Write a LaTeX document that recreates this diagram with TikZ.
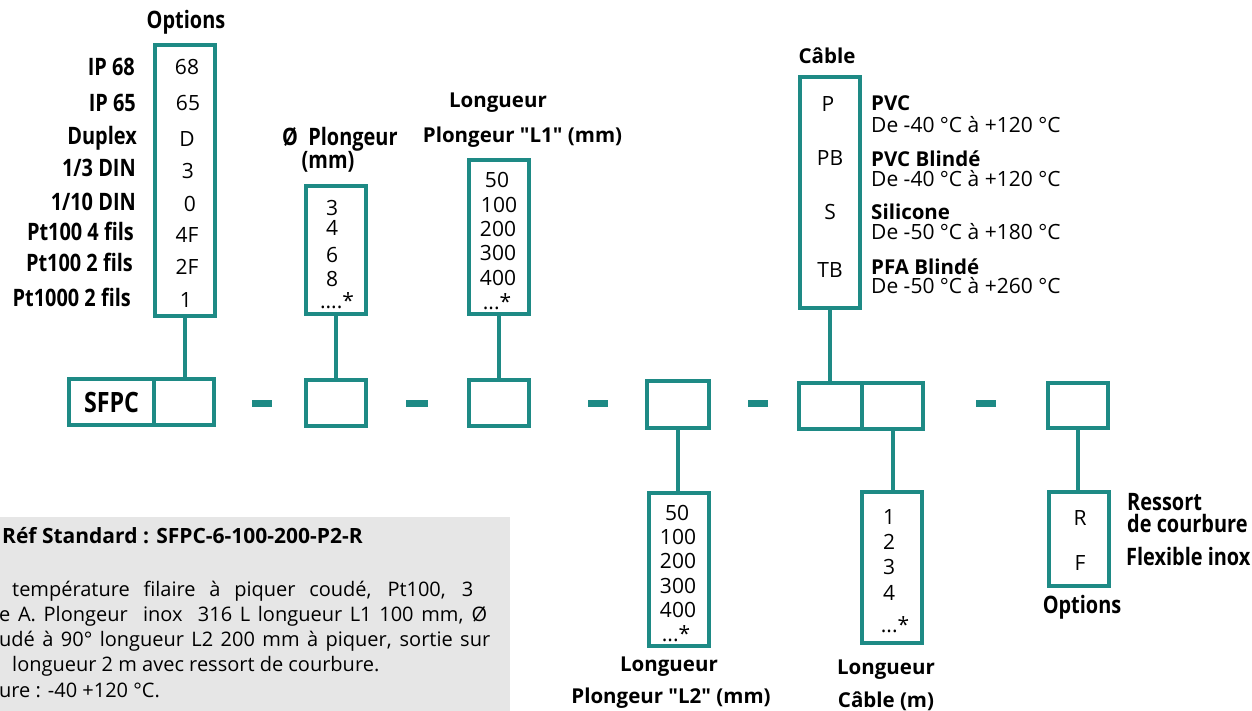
\documentclass[tikz,border=0pt]{standalone}
\usepackage{fontspec}
\setmainfont{Open Sans}[Ligatures=TeXOff]
\newfontfamily\condf{Open Sans}[FakeStretch=0.83]
\definecolor{teal1}{HTML}{1E8A85}
\definecolor{graybg}{HTML}{E6E6E6}
\begin{document}
\begin{tikzpicture}[x=1pt,y=-1pt,
  tbox/.style={draw=teal1, line width=4pt, inner sep=0pt, rectangle},
  dashbar/.style={fill=teal1, draw=none, inner sep=0pt, minimum width=20, minimum height=7},
  conn/.style={draw=teal1, line width=4pt},
  lab/.style={font=\condf\bfseries\fontsize{24}{28}\selectfont, inner sep=0pt},
  hdr/.style={font=\bfseries\fontsize{20.5}{24}\selectfont, inner sep=0pt},
  val/.style={font=\fontsize{21}{25}\selectfont, inner sep=0pt},
  gt/.style={font=\fontsize{20}{24}\selectfont, inner sep=0pt, anchor=base west},
  gtb/.style={font=\bfseries\fontsize{21}{24}\selectfont, inner sep=0pt, anchor=base west}
]
\useasboundingbox (0,0) rectangle (1252,711);

% gray reference panel
\begin{scope}
\clip (0,517) rectangle (510,711);
\fill[graybg] (-5,517) rectangle (510,716);
\node[gtb] (ref) at (2,543) {Réf Standard : SFPC-6-100-200-P2-R};
\node[gt] (g1) at (12,596) {\makebox[461pt][s]{température filaire à piquer coudé, Pt100, 3}};
\node[gt] (g2) at (-1,621) {\makebox[488pt][s]{e A. Plongeur \ inox \ 316 L longueur L1 100 mm, Ø}};
\node[gt] (g3) at (-1,646) {\makebox[491pt][s]{udé à 90° longueur L2 200 mm à piquer, sortie sur}};
\node[gt] (g4) at (12,671) {longueur 2 m avec ressort de courbure.};
\node[gt] (g5) at (-1,697) {ure : -40 +120 °C.};
\end{scope}

% main row
\node[tbox, minimum width=85, minimum height=46] (sfL) at (111.5,402) {};
\node[tbox, minimum width=60, minimum height=46] (sfR) at (184,402) {};
\node[lab, font=\condf\bfseries\fontsize{28}{32}\selectfont, anchor=base] (sfpc) at (111.5,412) {SFPC};
\node[dashbar] (d1) at (262,403.5) {};
\node[tbox, minimum width=60, minimum height=46] (m2) at (336,403) {};
\node[dashbar, minimum width=22] (d2) at (417,403.5) {};
\node[tbox, minimum width=60, minimum height=46] (m3) at (498.5,403) {};
\node[dashbar] (d3) at (598,403.5) {};
\node[tbox, minimum width=62, minimum height=47] (m4) at (678,404.5) {};
\node[dashbar] (d4) at (758,403.5) {};
\node[tbox, minimum width=63, minimum height=46] (cbL) at (830.5,406) {};
\node[tbox, minimum width=61, minimum height=46] (cbR) at (892.5,406) {};
\node[dashbar] (d5) at (986,403.5) {};
\node[tbox, minimum width=60, minimum height=45] (m6) at (1078,405.5) {};

% options box (top left)
\node[tbox, minimum width=60, minimum height=271] (optb) at (185,180.5) {};
\node[lab, anchor=base] (optt) at (186,29) {Options};
\node[lab, anchor=base east] (l1) at (135,76) {IP 68};
\node[lab, anchor=base east] (l2) at (136,112) {IP 65};
\node[lab, anchor=base east] (l3) at (137,145) {Duplex};
\node[lab, anchor=base east] (l4) at (136,177) {1/3 DIN};
\node[lab, anchor=base east] (l5) at (136,211) {1/10 DIN};
\node[lab, anchor=base east] (l6) at (134,241) {Pt100 4 fils};
\node[lab, anchor=base east] (l7) at (133,272) {Pt100 2 fils};
\node[lab, anchor=base east] (l8) at (131,306) {Pt1000 2 fils};
\node[val, anchor=base] (v1) at (187,75) {68};
\node[val, anchor=base] (v2) at (188,111) {65};
\node[val, anchor=base] (v3) at (187,147) {D};
\node[val, anchor=base] (v4) at (188,179) {3};
\node[val, anchor=base] (v5) at (190,212) {0};
\node[val, anchor=base] (v6) at (187,243) {4F};
\node[val, anchor=base] (v7) at (187,274) {2F};
\node[val, anchor=base] (v8) at (186,307) {1};

% diameter box
\node[tbox, minimum width=60, minimum height=128] (diab) at (336,250) {};
\node[lab, anchor=base west] (diat) at (282,146) {Ø\ \ Plongeur};
\node[lab, anchor=base] (diam) at (328,169) {(mm)};
\node[val, anchor=base] (dv1) at (332,216) {3};
\node[val, anchor=base] (dv2) at (332,236) {4};
\node[val, anchor=base] (dv3) at (332,262) {6};
\node[val, anchor=base] (dv4) at (332,287) {8};
\node[val, anchor=base] (dv5) at (337,308) {....*};

% L1 box
\node[tbox, minimum width=60, minimum height=154] (l1b) at (498.5,237) {};
\node[hdr, anchor=base] (l1t1) at (498,108) {Longueur};
\node[hdr, anchor=base] (l1t2) at (522.5,143) {Plongeur "L1" (mm)};
\node[val, anchor=base] (a1) at (497,188) {50};
\node[val, anchor=base] (a2) at (499,213) {100};
\node[val, anchor=base] (a3) at (498,237) {200};
\node[val, anchor=base] (a4) at (498,261) {300};
\node[val, anchor=base] (a5) at (498,285) {400};
\node[val, anchor=base] (a6) at (497,309) {...*};

% cable type box
\node[tbox, minimum width=60, minimum height=231] (cabb) at (830,192.5) {};
\node[hdr, anchor=base] (cabt) at (827,64) {Câble};
\node[val, anchor=base] (c1) at (828,112) {P};
\node[val, anchor=base] (c2) at (830,166) {PB};
\node[val, anchor=base] (c3) at (830,220) {S};
\node[val, anchor=base] (c4) at (830,277) {TB};
\node[hdr, anchor=base west] (ct1) at (871,111) {PVC};
\node[val, anchor=base west] (cd1) at (871,133) {De -40 °C à +120 °C};
\node[hdr, anchor=base west] (ct2) at (871,167) {PVC Blindé};
\node[val, anchor=base west] (cd2) at (871,187) {De -40 °C à +120 °C};
\node[hdr, anchor=base west] (ct3) at (871,220) {Silicone};
\node[val, anchor=base west] (cd3) at (871,240) {De -50 °C à +180 °C};
\node[hdr, anchor=base west] (ct4) at (871,275) {PFA Blindé};
\node[val, anchor=base west] (cd4) at (871,294) {De -50 °C à +260 °C};

% L2 box
\node[tbox, minimum width=60, minimum height=153] (l2b) at (678.5,569.5) {};
\node[val, anchor=base] (b1) at (677,520) {50};
\node[val, anchor=base] (b2) at (678,544) {100};
\node[val, anchor=base] (b3) at (678,568) {200};
\node[val, anchor=base] (b4) at (678,593) {300};
\node[val, anchor=base] (b5) at (678,617) {400};
\node[val, anchor=base] (b6) at (676,641) {...*};
\node[hdr, anchor=base] (l2t1) at (669,671) {Longueur};
\node[hdr, anchor=base] (l2t2) at (671,703) {Plongeur "L2" (mm)};

% cable length box
\node[tbox, minimum width=60, minimum height=151] (clb) at (892,567.5) {};
\node[val, anchor=base] (e1) at (889,524) {1};
\node[val, anchor=base] (e2) at (889,549) {2};
\node[val, anchor=base] (e3) at (889,574) {3};
\node[val, anchor=base] (e4) at (889,600) {4};
\node[val, anchor=base] (e5) at (895,632) {...*};
\node[hdr, anchor=base] (clt1) at (886,674) {Longueur};
\node[hdr, anchor=base] (clt2) at (886,707) {Câble (m)};

% options R/F box
\node[tbox, minimum width=60, minimum height=94] (rfb) at (1079,539) {};
\node[val, anchor=base] (r1) at (1080,525) {R};
\node[val, anchor=base] (r2) at (1080,570) {F};
\node[lab, anchor=base west] (rt1) at (1127,510) {Ressort};
\node[lab, anchor=base west] (rt2) at (1127,532) {de courbure};
\node[lab, anchor=base west] (rt3) at (1126,565) {Flexible inox};
\node[lab, anchor=base] (rt4) at (1082,613) {Options};

% connectors
\draw[conn] (optb.south) -- (optb.south |- sfR.north);
\draw[conn] (diab.south) -- (m2.north);
\draw[conn] (l1b.south) -- (m3.north);
\draw[conn] (m4.south) -- (m4.south |- l2b.north);
\draw[conn] (cabb.south) -- (cabb.south |- cbL.north);
\draw[conn] (cbR.south) -- (cbR.south |- clb.north);
\draw[conn] (m6.south) -- (m6.south |- rfb.north);
\end{tikzpicture}
\end{document}
